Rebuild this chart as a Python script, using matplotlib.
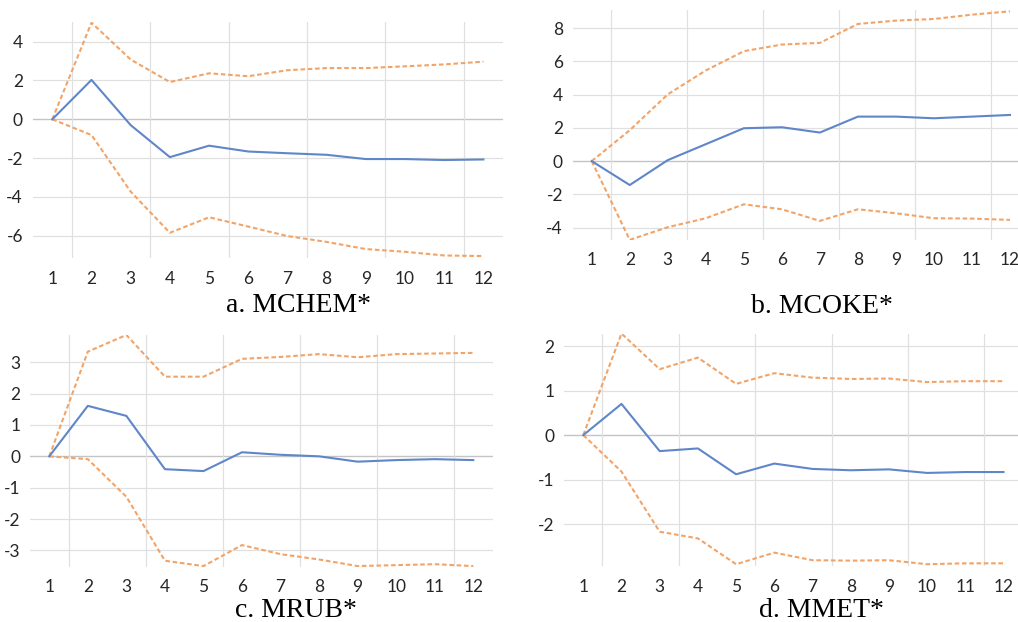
import matplotlib
matplotlib.use("Agg")
import matplotlib.pyplot as plt

plt.rcParams['axes.unicode_minus'] = False

periods = list(range(1, 13))

chem_mid = [0, 2.03, -0.30, -1.95, -1.36, -1.66, -1.75, -1.83, -2.05, -2.05, -2.10, -2.07]
chem_up = [0, 4.98, 3.08, 1.92, 2.37, 2.22, 2.53, 2.64, 2.64, 2.73, 2.83, 2.97]
chem_lo = [0, -0.81, -3.73, -5.85, -5.05, -5.53, -6.02, -6.32, -6.69, -6.83, -7.02, -7.05]

coke_mid = [0, -1.44, 0.06, 1.02, 1.98, 2.04, 1.72, 2.68, 2.68, 2.58, 2.68, 2.78]
coke_up = [0, 1.86, 4.02, 5.46, 6.62, 7.02, 7.12, 8.26, 8.46, 8.56, 8.82, 9.02]
coke_lo = [0, -4.74, -3.98, -3.44, -2.60, -2.90, -3.60, -2.90, -3.14, -3.44, -3.46, -3.54]

rub_mid = [0, 1.61, 1.29, -0.41, -0.47, 0.13, 0.05, 0.0, -0.17, -0.12, -0.09, -0.12]
rub_up = [0, 3.34, 3.87, 2.54, 2.54, 3.11, 3.17, 3.26, 3.16, 3.26, 3.28, 3.30]
rub_lo = [0, -0.09, -1.29, -3.33, -3.50, -2.83, -3.12, -3.29, -3.50, -3.47, -3.44, -3.50]

met_mid = [0, 0.70, -0.36, -0.30, -0.88, -0.64, -0.76, -0.79, -0.77, -0.85, -0.83, -0.83]
met_up = [0, 2.28, 1.48, 1.74, 1.15, 1.39, 1.29, 1.26, 1.27, 1.19, 1.21, 1.21]
met_lo = [0, -0.82, -2.17, -2.32, -2.90, -2.64, -2.81, -2.82, -2.81, -2.90, -2.88, -2.88]

titles = ["a. MCHEM*", "b. MCOKE*", "c. MRUB*", "d. MMET*"]

W, H = 1018, 622
fig = plt.figure(figsize=(W / 100, H / 100), dpi=100)
fig.patch.set_facecolor("white")

BLUE = "#5F86C9"
ORANGE = "#F2A468"
GRID = "#E0E0E0"
ZERO = "#C4C4C4"
TXT = "#262626"

panels = [
    (32.7, 503, 22.3, 258, (-7.15, 5.0), [-6, -4, -2, 0, 2, 4],
     (chem_mid, chem_up, chem_lo), (299, 312)),
    (572.7, 1029, 10, 240, (-4.75, 9.1), [-4, -2, 0, 2, 4, 6, 8],
     (coke_mid, coke_up, coke_lo), (822, 313)),
    (30, 492.6, 335, 566.7, (-3.52, 3.87), [-3, -2, -1, 0, 1, 2, 3],
     (rub_mid, rub_up, rub_lo), (296, 617)),
    (564.2, 1022.6, 334, 566, (-2.94, 2.27), [-2, -1, 0, 1, 2],
     (met_mid, met_up, met_lo), (821, 617)),
]

for (l, r, t, b, ylim, yt, (mid, up, lo), (tx, ty)), title in zip(panels, titles):
    ax = fig.add_axes([l / W, 1 - b / H, (r - l) / W, (b - t) / H])
    ax.set_xlim(0.5, 12.5)
    ax.set_ylim(*ylim)
    for s in ax.spines.values():
        s.set_visible(False)
    for yv in yt:
        ax.axhline(yv, color=ZERO if yv == 0 else GRID, lw=1.0 if yv == 0 else 0.9, zorder=0)
    for xv in [1.5, 3.5, 5.5, 7.5, 9.5, 11.5]:
        ax.axvline(xv, color=GRID, lw=0.9, zorder=0)
    ax.plot(periods, up, color=ORANGE, lw=1.5, dashes=(2.2, 1.3), zorder=2)
    ax.plot(periods, lo, color=ORANGE, lw=1.5, dashes=(2.2, 1.3), zorder=2)
    ax.plot(periods, mid, color=BLUE, lw=1.5, zorder=3)
    ax.set_xticks(periods)
    ax.set_xticklabels([str(p) for p in periods])
    ax.set_yticks(yt)
    ax.set_yticklabels([str(v) for v in yt])
    ax.tick_params(axis='both', length=0, labelsize=12.5, colors=TXT)
    ax.tick_params(axis='x', pad=9)
    ax.tick_params(axis='y', pad=7)
    for lab in ax.get_xticklabels() + ax.get_yticklabels():
        lab.set_fontfamily("Lato")
    ax.set_facecolor("none")
    fig.text(tx / W, 1 - ty / H, title, ha='center', va='baseline',
             fontsize=20, family="Liberation Serif", color="black")

fig.savefig("out.png", dpi=100, facecolor="white")
